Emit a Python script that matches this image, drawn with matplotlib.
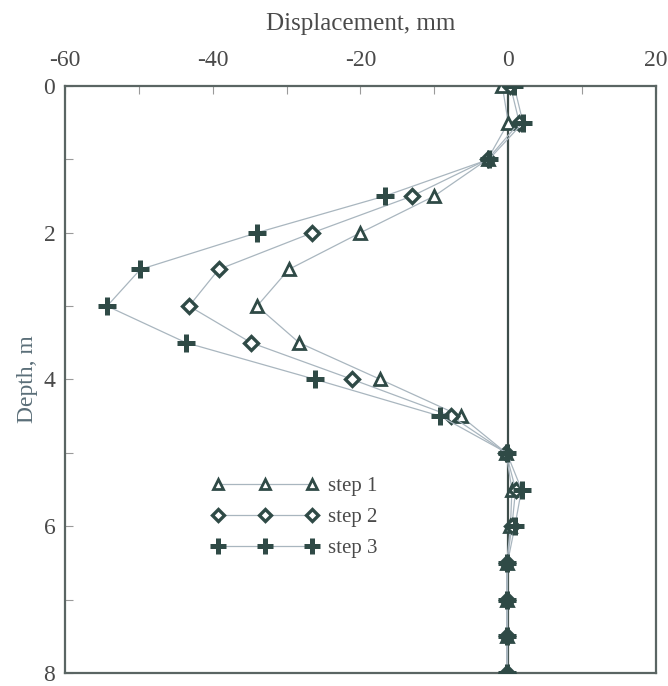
import matplotlib
matplotlib.use("Agg")
import matplotlib.pyplot as plt
from matplotlib.ticker import MultipleLocator

depth = [0, 0.5, 1.0, 1.5, 2.0, 2.5, 3.0, 3.5, 4.0, 4.5, 5.0, 5.5, 6.0, 6.5, 7.0, 7.5, 8.0]
step1 = [-0.8, 0.0, -2.8, -10.0, -20.0, -29.7, -34.0, -28.3, -17.3, -6.4, -0.3, 0.5, 0.3, -0.2, -0.2, -0.2, -0.2]
step2 = [0.3, 1.5, -2.8, -13.0, -26.5, -39.2, -43.2, -34.8, -21.1, -7.7, -0.3, 1.0, 0.5, -0.2, -0.2, -0.2, -0.2]
step3 = [0.8, 2.0, -2.6, -16.7, -34.0, -49.8, -54.3, -43.6, -26.1, -9.2, -0.2, 1.8, 0.9, -0.1, -0.1, -0.1, -0.1]

labels = ["step 1", "step 2", "step 3"]
x_ticks = [-60, -40, -20, 0, 20]
y_ticks = [0, 2, 4, 6, 8]

mark = "#2f4a46"
line = "#a9b6bf"
text = "#4a4a4a"

plt.rcParams["font.family"] = ["Liberation Serif", "DejaVu Serif"]
plt.rcParams["axes.unicode_minus"] = False

fig = plt.figure(figsize=(6.68, 6.86), dpi=100)
ax = fig.add_axes([0.0973, 0.019, 0.8847, 0.8557])

ax.plot(step1, depth, color=line, lw=0.9, marker="^", ms=8, mfc="white",
        mec=mark, mew=2.0, label=labels[0], zorder=3)
ax.plot(step2, depth, color=line, lw=0.9, marker="D", ms=7.5, mfc="white",
        mec=mark, mew=2.4, label=labels[1], zorder=3)
ax.plot(step3, depth, color=line, lw=0.9, marker="+", ms=13, mfc=mark,
        mec=mark, mew=3.6, label=labels[2], zorder=3)

ax.axvline(0, color="#3d4d4a", lw=1.6, zorder=2)

ax.set_xlim(-60, 20)
ax.set_ylim(8, 0)
ax.set_xticks(x_ticks)
ax.set_yticks(y_ticks)
ax.xaxis.set_minor_locator(MultipleLocator(10))
ax.yaxis.set_minor_locator(MultipleLocator(1))
ax.xaxis.tick_top()
ax.xaxis.set_label_position("top")
ax.tick_params(which="both", direction="in", colors="#9a9a9a", labelcolor=text,
               labelsize=17, length=6, width=0.8)
ax.tick_params(axis="x", which="both", top=True, bottom=False, pad=11)
ax.tick_params(axis="y", which="both", left=True, right=False, pad=7)

for s in ax.spines.values():
    s.set_color("#5a6563")
    s.set_linewidth(1.6)

ax.set_xlabel("Displacement, mm", fontsize=18, color=text, labelpad=14)
ax.set_ylabel("Depth, m", fontsize=17, color="#5a6e78", labelpad=4)

leg = ax.legend(loc="upper left", bbox_to_anchor=(0.234, 0.349), numpoints=3,
                frameon=False, fontsize=15, handlelength=5.1, handletextpad=0.5,
                labelspacing=0.55, labelcolor=text, borderaxespad=0,
                markerscale=0.85)

fig.savefig("out.png", dpi=100, facecolor="white")
